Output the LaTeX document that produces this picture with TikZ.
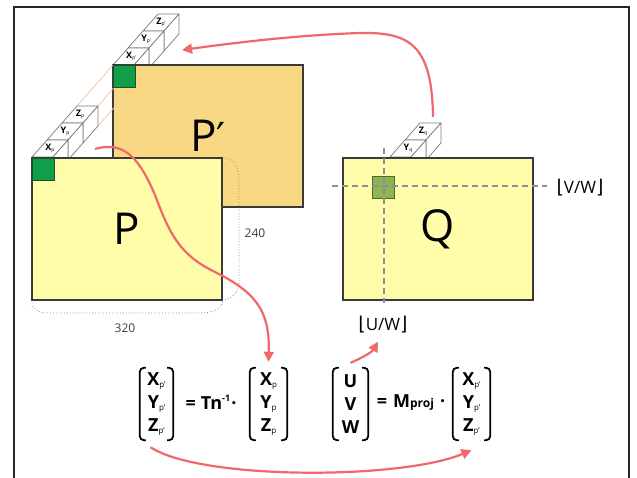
\documentclass[tikz,border=0pt]{standalone}
\usepackage{fontspec}
\setmainfont{Open Sans}
\newfontfamily\djv{DejaVu Sans}
\usetikzlibrary{arrows.meta}
\definecolor{redc}{HTML}{F0686A}
\definecolor{boxc}{HTML}{3A3A3A}
\definecolor{pfill}{HTML}{FFFDAA}
\definecolor{ppf}{HTML}{F9D884}
\definecolor{grnf}{HTML}{109E48}
\definecolor{grnd}{HTML}{1F4F2A}
\definecolor{qgf}{HTML}{8DB553}
\definecolor{qgd}{HTML}{4E6A2A}
\definecolor{cubec}{HTML}{7A7A7A}
\definecolor{peachc}{HTML}{F2C6A6}
\definecolor{dimc}{HTML}{8A8A8A}
\definecolor{dashc}{HTML}{8A8FA0}
\newcommand\cubeat[4]{%
  \draw[cubeline] (#1,#2) -- ++(21,0) -- ++(15,-17) -- ++(-21,0) -- cycle;
  \draw[cubeline] (#1+21,#2) -- ++(15,-17) -- ++(0,20) -- ++(-15,17) -- cycle;
  \node[cubelbl] (#4) at (#1+18,#2-8.5) {#3};
}
\newcommand\clbl[2]{\textbf{#1}\raisebox{-1.5pt}{\fontsize{5}{5}\selectfont #2}}
\newcommand\ent[2]{#1\raisebox{-2pt}{\fontsize{8}{8}\selectfont\mdseries #2}}
\newcommand\flr[1]{{\djv\fontsize{19}{19}\selectfont\raisebox{-0.5pt}{⌊}}#1{\djv\fontsize{19}{19}\selectfont\raisebox{-0.5pt}{⌋}}}
\newcommand\brackets[1]{%
  \draw[brk] ([xshift=6pt]#1.north west) -- (#1.north west) -- (#1.south west) -- ([xshift=6pt]#1.south west);
  \draw[brk] ([xshift=-6pt]#1.north east) -- (#1.north east) -- (#1.south east) -- ([xshift=-6pt]#1.south east);
}
\begin{document}
\begin{tikzpicture}[x=1pt,y=-1pt,
  box/.style={draw=boxc, line width=1.1pt, inner sep=0pt, minimum width=190pt, minimum height=142pt, font=\fontsize{44}{44}\selectfont},
  grn/.style={draw=grnd, line width=1pt, fill=grnf, minimum size=22pt, inner sep=0pt},
  cubeline/.style={draw=cubec, line width=0.7pt, fill=white, line join=round},
  cubelbl/.style={font=\fontsize{9}{9}\selectfont, inner sep=0pt},
  peach/.style={draw=peachc, line width=0.8pt},
  dim/.style={draw=dimc, line width=0.8pt, dotted},
  redarrow/.style={draw=redc, line width=2.2pt, -{Triangle[length=10pt,width=10pt]}},
  mat/.style={minimum width=#1, minimum height=72pt, inner sep=0pt, align=center, font=\fontsize{18}{23}\selectfont\bfseries},
  brk/.style={line width=1.8pt, rounded corners=4pt},
  dashln/.style={draw=dashc, line width=1.3pt, dash pattern=on 6pt off 4pt},
  lbl/.style={inner sep=0pt},
]
\useasboundingbox (0,0) rectangle (637,477);
\fill[white] (0,0) rectangle (637,477);
\draw[line width=1.8pt, draw=black!85] (14,7) rectangle (629,495);

% P' stack and box
\cubeat{143}{31}{\clbl{Z}{p'}}{zpp}
\cubeat{128}{48}{\clbl{Y}{p'}}{ypp}
\cubeat{113}{65}{\clbl{X}{p'}}{xpp}
\node[box, fill=ppf] (Pp) at (208,136) {P{\djv\fontsize{40}{40}\selectfont ′}};
% peach construction lines
\coordinate (pa) at (77,106); \coordinate (pb) at (98,106); \coordinate (pc) at (98,126);
\coordinate (qa) at (113,65); \coordinate (qb) at (134,65); \coordinate (qc) at (134,85);
\draw[peach] (pa) -- (qa);
\draw[peach] (pb) -- (qb);
\draw[peach] (pc) -- (qc);
\node[grn] (gPp) at (124,76) {};

% P stack and box
\cubeat{62}{123}{\clbl{Z}{p}}{zp}
\cubeat{47}{140}{\clbl{Y}{p}}{yp}
\cubeat{32}{157}{\clbl{X}{p}}{xp}
\node[box, fill=pfill] (P) at (127,229) {P};
\node[grn] (gP) at (43,169) {};

% dimension curves
\draw[dim] (P.north east) .. controls (236,159) and (239,168) .. (239,182) -- (239,282) .. controls (239,292) and (233,298) .. (224,300);
\draw[dim] ([yshift=-1pt]P.south east) .. controls (221,310) and (212,313) .. (198,313) -- (48,313) .. controls (38,313) and (33,309) .. ([yshift=-2pt]P.south west);
\node[lbl, font=\fontsize{12}{12}\selectfont, text=black!75] (h240) at (255,233) {240};
\node[lbl, font=\fontsize{12}{12}\selectfont, text=black!75] (w320) at (125,328) {320};

% Q stack and box
\cubeat{405}{140}{\clbl{Z}{q}}{zq}
\cubeat{390}{157}{\clbl{Y}{q}}{yq}
\node[box, fill=pfill] (Q) at (438,229) {Q};
\node[draw=qgd, line width=1pt, fill=qgf, minimum size=22pt, inner sep=0pt] (gQ) at (383,187) {};
\coordinate (hl) at (332,186); \coordinate (hr) at (547,186);
\coordinate (vt) at (384,148); \coordinate (vb) at (384,303);
\draw[dashln] (hl) -- (hr);
\draw[dashln] (vt) -- (vb);
\node[lbl, font=\fontsize{17}{17}\selectfont] (VW) at (580,188) {\flr{V/W}};
\node[lbl, font=\fontsize{17}{17}\selectfont] (UW) at (383,325) {\flr{U/W}};

% equations
\node[mat=33pt] (m1) at (156.5,404) {\ent{X}{p'}\\\ent{Y}{p'}\\\ent{Z}{p'}};
\node[mat=37pt] (m2) at (268.5,404) {\ent{X}{p}\\\ent{Y}{p}\\\ent{Z}{p}};
\node[mat=35pt] (m3) at (350.5,404) {U\\V\\W};
\node[mat=37pt] (m4) at (471.5,404) {\ent{X}{p'}\\\ent{Y}{p'}\\\ent{Z}{p'}};
\brackets{m1}\brackets{m2}\brackets{m3}\brackets{m4}
\node[lbl, font=\fontsize{18}{18}\selectfont\bfseries] (eq1) at (211,402) {=\hspace{5pt}Tn\raisebox{8pt}{\fontsize{9}{9}\selectfont -1}\hspace{1pt}·};
\node[lbl, font=\fontsize{18}{18}\selectfont\bfseries] (eq2) at (411,403) {=\hspace{6pt}M{\fontsize{12}{12}\selectfont proj}\hspace{6pt}·};

% red arrows
\coordinate (a1s) at (433,117); \coordinate (a1e) at (182,50);
\draw[redarrow] (a1s) .. controls (432,45) and (410,32) .. (360,33) .. controls (300,35) and (240,42) .. (a1e);
\coordinate (a2s) at (95,149);
\draw[redarrow] (a2s) .. controls (125,140) and (140,160) .. (155,195) .. controls (170,235) and (180,255) .. (215,272) .. controls (255,292) and (270,310) .. ([yshift=6pt]m2.north);
\draw[redarrow] ([yshift=5pt]m3.north) .. controls (362,358) and (372,352) .. ([xshift=-5pt,yshift=-8pt]UW.south);
\draw[redarrow] ([xshift=-6pt,yshift=-7pt]m1.south) .. controls (200,480) and (400,480) .. ([yshift=-10pt]m4.south);
\end{tikzpicture}
\end{document}
